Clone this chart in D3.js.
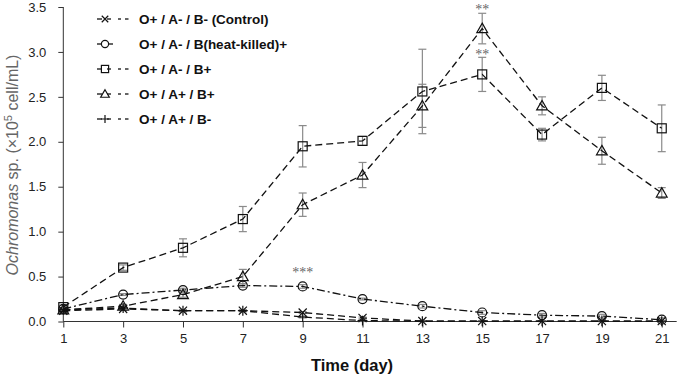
<!DOCTYPE html>
<html lang="en">
<meta charset="utf-8"/>
<head>
<style>
  body { margin: 0; background: #ffffff; }
  * { font-family: "Liberation Sans", Arial, sans-serif; }
  .tick text { font-size: 13px; fill: #222; }
  .legend text { font-size: 13.5px; font-weight: bold; fill: #111; }
  .star { font-size: 14px; fill: #666; font-family: "Liberation Serif", serif; }
</style>
</head>
<body>
<svg id="chart" width="680" height="378"></svg>

<script src="https://cdn.jsdelivr.net/npm/d3@7/dist/d3.min.js"></script>
<script>
// data (x10^5 cell/mL)
let days = [1, 3, 5, 7, 9, 11, 13, 15, 17, 19, 21]
let yTicks = [0, 0.5, 1.0, 1.5, 2.0, 2.5, 3.0, 3.5]

let control      = [0.12, 0.14, 0.12, 0.12, 0.10, 0.04, 0.005, 0.005, 0.005, 0.005, 0.005]
let controlErr   = [0.01, 0.01, 0.01, 0.01, 0.01, 0.01, 0.005, 0.005, 0.005, 0.005, 0.005]
let heatKilled   = [0.14, 0.30, 0.35, 0.40, 0.39, 0.25, 0.17, 0.10, 0.07, 0.06, 0.02]
let heatKilledErr= [0.01, 0.01, 0.02, 0.02, 0.02, 0.01, 0.02, 0.02, 0.02, 0.02, 0.02]
let bPlus        = [0.16, 0.60, 0.82, 1.14, 1.95, 2.01, 2.56, 2.75, 2.08, 2.60, 2.15]
let bPlusErr     = [0.02, 0.03, 0.10, 0.14, 0.23, 0.05, 0.47, 0.19, 0.07, 0.14, 0.26]
let abPlus       = [0.13, 0.17, 0.30, 0.50, 1.30, 1.63, 2.40, 3.26, 2.40, 1.90, 1.43]
let abPlusErr    = [0.02, 0.02, 0.03, 0.08, 0.13, 0.14, 0.24, 0.17, 0.10, 0.15, 0.06]
let aPlus        = [0.13, 0.15, 0.12, 0.12, 0.05, 0.01, 0.003, 0.003, 0.003, 0.003, 0.003]
let aPlusErr     = [0.01, 0.01, 0.01, 0.01, 0.01, 0.01, 0.003, 0.003, 0.003, 0.003, 0.003]

let labels = ["O+ / A- / B- (Control)", "O+ / A- / B(heat-killed)+", "O+ / A- / B+", "O+ / A+ / B+", "O+ / A+ / B-"]
let markers = ["x", "circle", "square", "triangle", "plus"]
let dashes = ["7,4", "8,3,2,3", "7,4", "7,4", "7,4"]

// significance marks: [day, level of the mark, text]
let stars = [[9, 0.58, "***"], [15, 3.51, "**"], [15, 3.0, "**"]]

let series = [
  {vals: control, err: controlErr},
  {vals: heatKilled, err: heatKilledErr},
  {vals: bPlus, err: bPlusErr},
  {vals: abPlus, err: abPlusErr},
  {vals: aPlus, err: aPlusErr}
]

let svg = d3.select("#chart")

let xScale = d3.scaleLinear().domain([1, 21.5]).range([63.3, 676.7])
let yScale = d3.scaleLinear().domain([0, 3.5]).range([321.5, 7])

// axes
svg.append("g")
  .attr("transform", "translate(0," + yScale(0) + ")")
  .call(d3.axisBottom(xScale).tickValues(days).tickSize(6).tickPadding(6).tickFormat(d3.format("d")))
  .call(g => g.select(".domain").attr("d", "M" + xScale(1) + ",0H" + xScale(21.5)))
  .call(g => g.selectAll("line, path").attr("stroke", "#333"))

svg.append("g")
  .attr("transform", "translate(" + xScale(1) + ",0)")
  .call(d3.axisLeft(yScale).tickValues(yTicks).tickSize(5).tickPadding(12).tickFormat(d3.format(".1f")))
  .call(g => g.select(".domain").attr("d", "M0," + yScale(3.5) + "V" + yScale(0)))
  .call(g => g.selectAll("line, path").attr("stroke", "#333"))

// axis titles
svg.append("text")
  .attr("x", 352).attr("y", 371)
  .attr("text-anchor", "middle")
  .style("font-size", "16.5px").style("font-weight", "bold").style("fill", "#111")
  .text("Time (day)")

let yl = svg.append("text")
  .attr("transform", "translate(18,165) rotate(-90)")
  .attr("text-anchor", "middle")
  .style("font-size", "16px").style("fill", "#666")
yl.append("tspan").style("font-style", "italic").text("Ochromonas")
yl.append("tspan").text(" sp.  (\u00d710")
yl.append("tspan").attr("dy", -6).style("font-size", "11px").text("5")
yl.append("tspan").attr("dy", 6).text(" cell/mL)")

function drawMarker(g, type, x, y, s) {
  s = s || 4.5
  if (type == "circle") {
    g.append("circle").attr("cx", x).attr("cy", y).attr("r", s)
  } else if (type == "square") {
    g.append("rect").attr("x", x - s).attr("y", y - s).attr("width", 2 * s).attr("height", 2 * s)
  } else if (type == "triangle") {
    let t = s * 1.2
    g.append("path").attr("d", "M" + x + "," + (y - t) + "L" + (x + t) + "," + (y + t * 0.75) + "L" + (x - t) + "," + (y + t * 0.75) + "Z")
  } else if (type == "x") {
    let t = s * 0.9
    g.append("path").attr("d", "M" + (x - t) + "," + (y - t) + "L" + (x + t) + "," + (y + t) + "M" + (x - t) + "," + (y + t) + "L" + (x + t) + "," + (y - t))
  } else if (type == "plus") {
    let t = s * 1.1
    g.append("path").attr("d", "M" + (x - t) + "," + y + "H" + (x + t) + "M" + x + "," + (y - t) + "V" + (y + t))
  }
}

let line = d3.line().x((d, i) => xScale(days[i])).y(d => yScale(d))

// error bars
series.forEach(s => {
  let g = svg.append("g").attr("stroke", "#8a8a8a").attr("stroke-width", 1.2)
  s.vals.forEach((v, i) => {
    let x = xScale(days[i])
    let y1 = yScale(v + s.err[i]), y2 = yScale(Math.max(0, v - s.err[i]))
    g.append("line").attr("x1", x).attr("x2", x).attr("y1", y1).attr("y2", y2)
    g.append("line").attr("x1", x - 4).attr("x2", x + 4).attr("y1", y1).attr("y2", y1)
    g.append("line").attr("x1", x - 4).attr("x2", x + 4).attr("y1", y2).attr("y2", y2)
  })
})

// lines and markers
series.forEach((s, k) => {
  svg.append("path")
    .datum(s.vals)
    .attr("d", line)
    .attr("fill", "none")
    .attr("stroke", "#111")
    .attr("stroke-width", 1.3)
    .attr("stroke-dasharray", dashes[k])
  let g = svg.append("g").attr("fill", "none").attr("stroke", "#111").attr("stroke-width", 1.2)
  s.vals.forEach((v, i) => drawMarker(g, markers[k], xScale(days[i]), yScale(v)))
})

// stars
svg.selectAll(".star")
  .data(stars)
  .enter()
  .append("text")
  .attr("class", "star")
  .attr("x", d => xScale(d[0]))
  .attr("y", d => yScale(d[1]) + 7.5)
  .attr("text-anchor", "middle")
  .text(d => d[2])

// legend
let legend = svg.append("g").attr("class", "legend")
labels.forEach((t, k) => {
  let y = 19 + k * 25
  let lg = legend.append("g").attr("stroke", "#111").attr("stroke-width", 1.3)
  lg.append("line").attr("x1", 97).attr("x2", 102).attr("y1", y).attr("y2", y)
  if (k == 1) {
    lg.append("line").attr("x1", 108).attr("x2", 113).attr("y1", y).attr("y2", y)
  } else {
    lg.append("line").attr("x1", 107).attr("x2", 111).attr("y1", y).attr("y2", y)
    lg.append("line").attr("x1", 118).attr("x2", 121).attr("y1", y).attr("y2", y)
    lg.append("line").attr("x1", 125).attr("x2", 128.5).attr("y1", y).attr("y2", y)
  }
  let g = legend.append("g").attr("fill", "none").attr("stroke", "#111").attr("stroke-width", 1.2)
  drawMarker(g, markers[k], 105, y, 3.6)
  legend.append("text").attr("x", 139).attr("y", y + 5).text(t)
})
</script>
</body>
</html>
